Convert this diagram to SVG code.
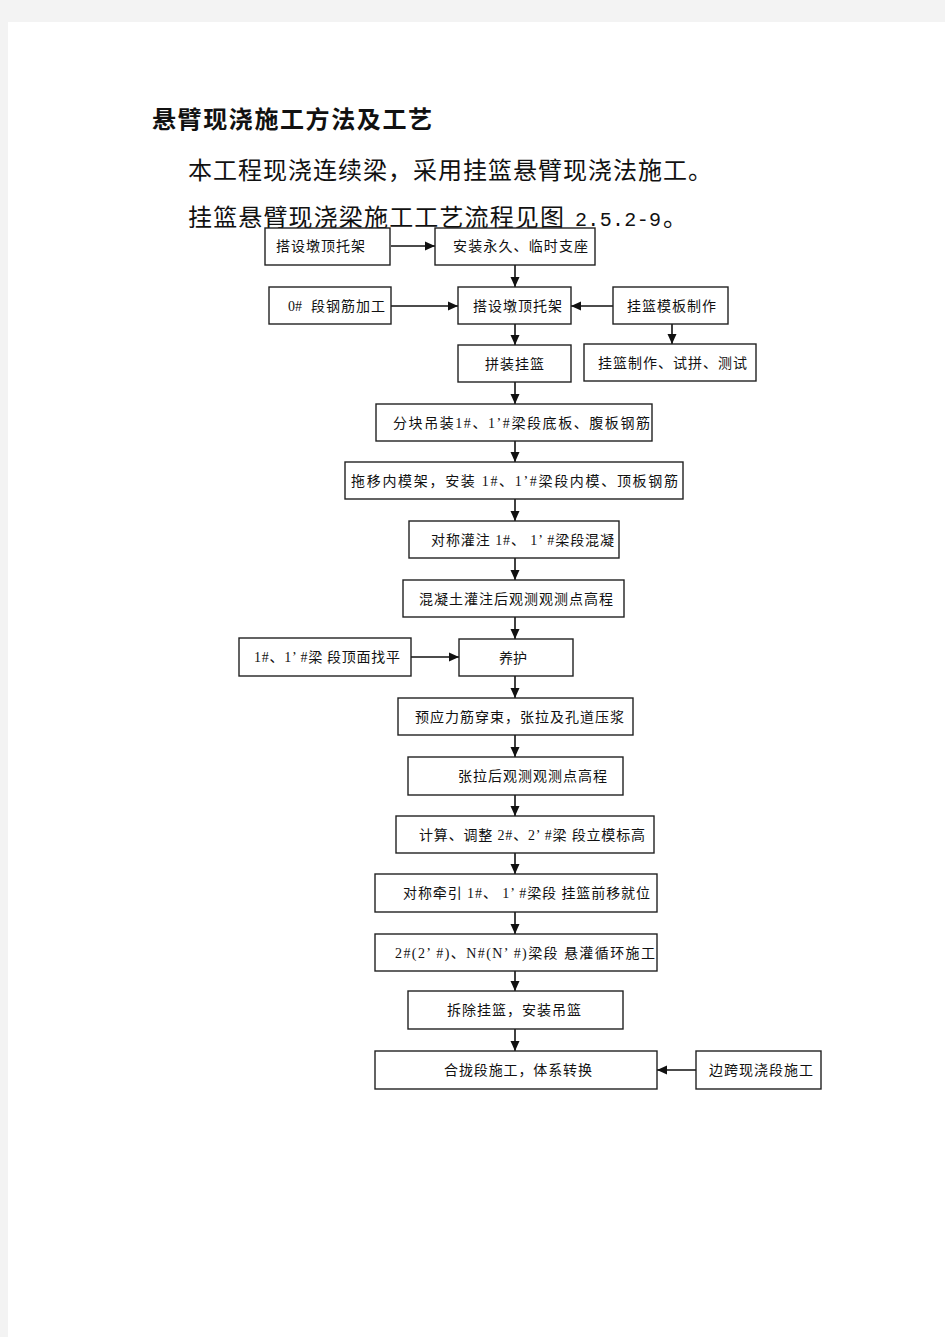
<svg xmlns="http://www.w3.org/2000/svg" width="945" height="1337" viewBox="0 0 945 1337">
<style>
.box{fill:#fff;stroke:#222;stroke-width:1.4}
.t{font-family:"Liberation Serif","Noto Sans CJK SC",sans-serif;font-size:14px;fill:#111}
.h{font-family:"Liberation Serif","Noto Sans CJK SC",serif;fill:#111}
.c{stroke:#111;stroke-width:1.6;fill:none;marker-end:url(#ah)}
</style>
<defs>
<marker id="ah" markerUnits="userSpaceOnUse" markerWidth="10" markerHeight="10" viewBox="0 0 10 10" refX="10" refY="5" orient="auto">
<path d="M0,0.5 L10,5 L0,9.5 Z" fill="#111"/>
</marker>
</defs>
<rect x="0" y="0" width="945" height="1337" fill="#f3f3f3"/>
<rect x="8" y="22" width="937" height="1315" fill="#fff"/>

<g id="headings">
<text class="h" x="152" y="128" font-size="24" font-weight="bold" textLength="280">悬臂现浇施工方法及工艺</text>
<text class="h" x="188" y="179" font-size="24" textLength="524">本工程现浇连续梁，采用挂篮悬臂现浇法施工。</text>
<text class="h" x="188" y="226" font-size="24"><tspan textLength="376">挂篮悬臂现浇梁施工工艺流程见图</tspan><tspan x="575" font-family="Liberation Mono,monospace" font-size="20" textLength="86">2.5.2-9</tspan><tspan x="663">。</tspan></text>
</g>

<g id="connectors">
<line class="c" x1="391" y1="246" x2="435" y2="246"/>
<line class="c" x1="515" y1="265" x2="515" y2="287"/>
<line class="c" x1="391" y1="306" x2="458" y2="306"/>
<line class="c" x1="613" y1="306" x2="571" y2="306"/>
<line class="c" x1="515" y1="324" x2="515" y2="345"/>
<line class="c" x1="672" y1="324" x2="672" y2="344"/>
<line class="c" x1="515" y1="382" x2="515" y2="404"/>
<line class="c" x1="515" y1="441" x2="515" y2="462"/>
<line class="c" x1="515" y1="499" x2="515" y2="521"/>
<line class="c" x1="515" y1="558" x2="515" y2="580"/>
<line class="c" x1="515" y1="617" x2="515" y2="639"/>
<line class="c" x1="411" y1="657" x2="459" y2="657"/>
<line class="c" x1="515" y1="676" x2="515" y2="698"/>
<line class="c" x1="515" y1="735" x2="515" y2="757"/>
<line class="c" x1="515" y1="795" x2="515" y2="816"/>
<line class="c" x1="515" y1="853" x2="515" y2="874"/>
<line class="c" x1="515" y1="912" x2="515" y2="934"/>
<line class="c" x1="515" y1="971" x2="515" y2="991"/>
<line class="c" x1="515" y1="1029" x2="515" y2="1051"/>
<line class="c" x1="696" y1="1070" x2="657" y2="1070"/>
</g>

<g id="n1"><rect class="box" x="265" y="228" width="125" height="37"/><text class="t" x="276" y="251" textLength="89">搭设墩顶托架</text></g>
<g id="n2"><rect class="box" x="435" y="228" width="160" height="37"/><text class="t" x="453" y="251" textLength="135">安装永久、临时支座</text></g>
<g id="n3"><rect class="box" x="269" y="287" width="122" height="37"/><text class="t" x="288" y="311"><tspan>0#</tspan><tspan x="311" textLength="74">段钢筋加工</tspan></text></g>
<g id="n4"><rect class="box" x="458" y="287" width="113" height="37"/><text class="t" x="473" y="311" textLength="89">搭设墩顶托架</text></g>
<g id="n5"><rect class="box" x="613" y="287" width="115" height="37"/><text class="t" x="627" y="311" textLength="89">挂篮模板制作</text></g>
<g id="n6"><rect class="box" x="458" y="345" width="113" height="37"/><text class="t" x="485" y="369" textLength="59">拼装挂篮</text></g>
<g id="n7"><rect class="box" x="584" y="344" width="172" height="37"/><text class="t" x="598" y="368" textLength="149">挂篮制作、试拼、测试</text></g>
<g id="n8"><rect class="box" x="376" y="404" width="276" height="37"/><text class="t" x="393" y="428" textLength="257">分块吊装1#、1’#梁段底板、腹板钢筋</text></g>
<g id="n9"><rect class="box" x="345" y="462" width="338" height="37"/><text class="t" x="351" y="486" textLength="327">拖移内模架，安装  1#、1’#梁段内模、顶板钢筋</text></g>
<g id="n10"><rect class="box" x="409" y="521" width="210" height="37"/><text class="t" x="431" y="545" textLength="183">对称灌注 1#、 1’ #梁段混凝</text></g>
<g id="n11"><rect class="box" x="403" y="580" width="221" height="37"/><text class="t" x="419" y="604" textLength="194">混凝土灌注后观测观测点高程</text></g>
<g id="n12"><rect class="box" x="239" y="638" width="172" height="38"/><text class="t" x="254" y="662" textLength="146">1#、1’ #梁 段顶面找平</text></g>
<g id="n13"><rect class="box" x="459" y="639" width="114" height="37"/><text class="t" x="499" y="663" textLength="28">养护</text></g>
<g id="n14"><rect class="box" x="398" y="698" width="235" height="37"/><text class="t" x="415" y="722" textLength="209">预应力筋穿束，张拉及孔道压浆</text></g>
<g id="n15"><rect class="box" x="408" y="757" width="215" height="38"/><text class="t" x="458" y="781" textLength="149">张拉后观测观测点高程</text></g>
<g id="n16"><rect class="box" x="396" y="816" width="258" height="37"/><text class="t" x="419" y="840" textLength="226">计算、调整 2#、2’ #梁 段立模标高</text></g>
<g id="n17"><rect class="box" x="375" y="874" width="282" height="38"/><text class="t" x="403" y="898" textLength="247">对称牵引 1#、 1’ #梁段 挂篮前移就位</text></g>
<g id="n18"><rect class="box" x="375" y="934" width="282" height="37"/><text class="t" x="395" y="958" textLength="260">2#(2’ #)、N#(N’ #)梁段 悬灌循环施工</text></g>
<g id="n19"><rect class="box" x="408" y="991" width="215" height="38"/><text class="t" x="447" y="1015" textLength="134">拆除挂篮，安装吊篮</text></g>
<g id="n20"><rect class="box" x="375" y="1051" width="282" height="38"/><text class="t" x="444" y="1075" textLength="148">合拢段施工，体系转换</text></g>
<g id="n21"><rect class="box" x="696" y="1051" width="125" height="38"/><text class="t" x="709" y="1075" textLength="104">边跨现浇段施工</text></g>
</svg>
